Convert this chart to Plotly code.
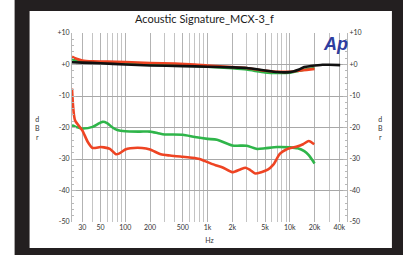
import math
import plotly.graph_objects as go

# ---------- data ----------
title_text = "Acoustic Signature_MCX-3_f"

black_f = [22.5, 30, 50, 100, 200, 500, 1000, 2000, 3000, 5000, 7000, 9000, 11000, 13000, 15000, 18000, 25000, 30000, 41000]
black_db = [0.7, 0.6, 0.4, 0.0, -0.3, -0.5, -0.7, -0.9, -1.1, -1.9, -2.4, -2.5, -2.2, -1.6, -0.8, -0.5, -0.1, -0.1, -0.2]

red_top_f = [22.5, 25, 30, 40, 60, 100, 200, 400, 700, 1000, 2000, 3000, 5000, 7000, 10000, 13000, 16000, 20000]
red_top_db = [2.5, 1.9, 1.3, 1.0, 0.9, 0.8, 0.5, 0.3, 0.0, -0.3, -0.8, -1.1, -2.0, -2.3, -2.3, -2.0, -1.7, -1.4]

green_top_f = [22.5, 25, 30, 50, 100, 200, 500, 1000, 2000, 3000, 5000, 7000, 10000, 13000, 16000, 20000]
green_top_db = [1.7, 1.2, 0.8, 0.6, 0.3, 0.1, -0.3, -0.7, -1.2, -1.6, -2.5, -2.7, -2.6, -2.0, -1.5, -1.1]

red_low_f = [22.5, 24.5, 30, 35, 40, 50, 55, 65, 77, 85, 100, 115, 160, 200, 270, 350, 500, 650, 800,
             1000, 1250, 1500, 2000, 2500, 2900, 3300, 3800, 4500, 5400, 6300, 7600, 9200, 12000, 14500, 17000, 19800]
red_low_db = [-7.6, -17.7, -20.9, -24.6, -26.5, -26.2, -26.3, -26.8, -28.5, -28.2, -27.0, -26.6, -26.5, -27.0, -28.5, -28.9, -29.3, -29.6, -30.0,
              -31.0, -32.0, -32.6, -34.2, -33.3, -32.8, -33.5, -34.6, -34.2, -33.4, -31.8, -28.3, -26.9, -26.1, -25.3, -24.3, -25.3]

green_low_f = [22.5, 25, 30, 40, 47, 53, 60, 70, 80, 100, 150, 200, 250, 300, 500, 700, 1000, 1300, 2000,
               3000, 4000, 5000, 7000, 10000, 12500, 15000, 17000, 20000]
green_low_db = [-19.3, -19.8, -20.3, -19.8, -18.8, -18.2, -18.6, -20.0, -20.8, -21.2, -21.3, -21.3, -21.8, -22.2, -22.3, -23.0, -23.6, -23.9, -25.7,
                -25.8, -26.8, -26.6, -26.2, -26.3, -26.6, -27.5, -28.8, -31.4]

x_tick_vals = [30, 50, 100, 200, 500, 1000, 2000, 5000, 10000, 20000, 40000]
x_tick_text = ["30", "50", "100", "200", "500", "1k", "2k", "5k", "10k", "20k", "40k"]
x_minor_vals = [40, 60, 70, 80, 90, 300, 400, 600, 700, 800, 900, 3000, 4000, 6000, 7000, 8000, 9000, 30000]
y_tick_vals = [10, 0, -10, -20, -30, -40, -50]
y_tick_text = ["+10", "+0", "-10", "-20", "-30", "-40", "-50"]

x_range_hz = [22.5, 49600]
y_range_db = [-50, 10]

# ---------- figure ----------
RED = "#ee4423"
GREEN = "#2fb54a"
BLACK = "#111111"
DARK = "#231f20"
FONT = "Lato, Liberation Sans, sans-serif"

fig = go.Figure()

def add_line(xs, ys, color):
    fig.add_trace(go.Scatter(x=xs, y=ys, mode="lines",
                             line=dict(color=color, width=2.6, shape="spline", smoothing=0.6),
                             hoverinfo="skip", showlegend=False))

add_line(green_low_f, green_low_db, GREEN)
add_line(red_low_f, red_low_db, RED)
add_line(green_top_f, green_top_db, GREEN)
add_line(red_top_f, red_top_db, RED)
add_line(black_f, black_db, BLACK)

# invisible trace to activate the right axis
fig.add_trace(go.Scatter(x=[x_range_hz[0]], y=[y_range_db[0]], yaxis="y2", mode="markers",
                         marker=dict(opacity=0), hoverinfo="skip", showlegend=False))

yax_common = dict(
    range=y_range_db, tickmode="array", tickvals=y_tick_vals, ticktext=y_tick_text,
    zeroline=False, showline=True, linecolor="#b8b8b8", linewidth=1,
    ticks="inside", ticklen=4, tickcolor="#b8b8b8",
    minor=dict(dtick=2, ticks="inside", ticklen=2, tickcolor="#b8b8b8", showgrid=False),
    tickfont=dict(size=7, color="#333333"), automargin=False, fixedrange=True,
)

fig.update_layout(
    width=403, height=255,
    margin=dict(l=71.5, r=56, t=33, b=33, autoexpand=False),
    paper_bgcolor=DARK,
    plot_bgcolor="white",
    showlegend=False,
    font=dict(family=FONT, color="#333333", size=7),
    xaxis=dict(
        type="log", range=[math.log10(x_range_hz[0]), math.log10(x_range_hz[1])],
        tickmode="array", tickvals=x_tick_vals, ticktext=x_tick_text,
        showgrid=True, gridcolor="#b3b3b3", gridwidth=1,
        minor=dict(tickmode="array", tickvals=x_minor_vals, showgrid=True, gridcolor="#c4c4c4", gridwidth=1, ticks=""),
        ticks="", showline=False, zeroline=False, automargin=False,
        tickfont=dict(size=7, color="#333333"),
        title=dict(text="Hz", font=dict(size=7, color="#333333"), standoff=8),
    ),
    yaxis=dict(showgrid=True, gridcolor="#a8a8a8", gridwidth=1, side="left", **yax_common),
    yaxis2=dict(overlaying="y", side="right", showgrid=False, **yax_common),
)

# background panels (paper coords)
W, H = 275.5, 189.0
def px(xp):
    return (xp - 71.5) / W
def py(yp):
    return (222 - yp) / H

fig.add_shape(type="rect", xref="paper", yref="paper", x0=px(29), x1=px(392), y0=py(248), y1=py(11),
              fillcolor="white", line=dict(width=0), layer="below")
fig.add_shape(type="rect", xref="paper", yref="paper", x0=px(-5), x1=px(14), y0=py(260), y1=py(-5),
              fillcolor="white", line=dict(width=0), layer="below")

fig.add_annotation(text=title_text, xref="paper", yref="paper", x=px(204), y=py(18), showarrow=False,
                   font=dict(size=11, color="#1a1a1a", family=FONT),
                   xanchor="center", yanchor="middle")
for xx in (36.7, 381):
    fig.add_annotation(text="d<br>B<br>r", xref="paper", yref="paper", x=px(xx), y=py(127.5), showarrow=False,
                       font=dict(size=7, color="#333333"), xanchor="center", yanchor="middle", align="center")
fig.add_annotation(text="<b><i>Ap</i></b>", xref="paper", yref="paper", x=px(335.5), y=py(44.5), showarrow=False,
                   font=dict(size=18, color="#2e3da0", family="Liberation Sans, Arial, sans-serif"),
                   xanchor="center", yanchor="middle")

fig.write_html("out.html", config={"displayModeBar": False},
               post_script="document.body.style.margin='0';document.body.style.padding='0';document.documentElement.style.overflow='hidden';")
